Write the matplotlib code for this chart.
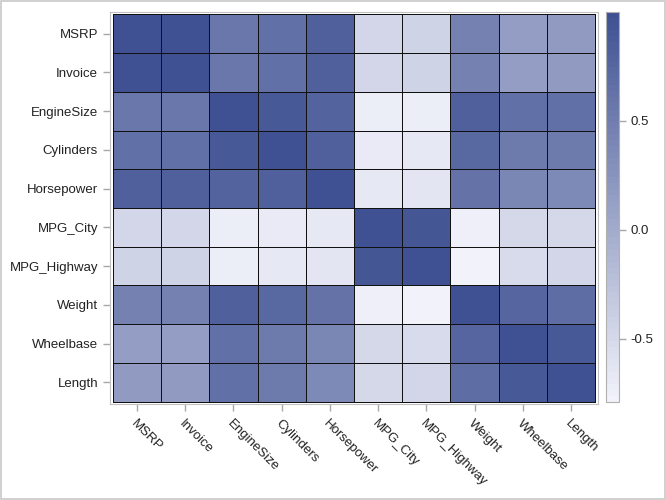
import numpy as np
import matplotlib
matplotlib.use('agg')
import matplotlib.pyplot as plt
from matplotlib.colors import LinearSegmentedColormap
from matplotlib.patches import Rectangle

plt.rcParams['font.family'] = ['Liberation Sans', 'DejaVu Sans']

## Variable names (row / column order)
names = ['MSRP', 'Invoice', 'EngineSize', 'Cylinders', 'Horsepower',
         'MPG_City', 'MPG_Highway', 'Weight', 'Wheelbase', 'Length']

## Correlation matrix, row by row
r_msrp = [1.0, 0.9991, 0.5718, 0.6497, 0.8270, -0.4750, -0.4396, 0.4484, 0.1520, 0.1720]
r_invoice = [0.9991, 1.0, 0.5645, 0.6452, 0.8238, -0.4704, -0.4347, 0.4424, 0.1483, 0.1666]
r_engine = [0.5718, 0.5645, 1.0, 0.9080, 0.7874, -0.7095, -0.7172, 0.8079, 0.6365, 0.6375]
r_cyl = [0.6497, 0.6452, 0.9080, 1.0, 0.8103, -0.6844, -0.6761, 0.7422, 0.5467, 0.5477]
r_hp = [0.8270, 0.8238, 0.7874, 0.8103, 1.0, -0.6767, -0.6472, 0.6308, 0.3874, 0.3816]
r_city = [-0.4750, -0.4704, -0.7095, -0.6844, -0.6767, 1.0, 0.9410, -0.7380, -0.5073, -0.5015]
r_hwy = [-0.4396, -0.4347, -0.7172, -0.6761, -0.6472, 0.9410, 1.0, -0.7910, -0.5247, -0.4661]
r_weight = [0.4484, 0.4424, 0.8079, 0.7422, 0.6308, -0.7380, -0.7910, 1.0, 0.7607, 0.6900]
r_wheel = [0.1520, 0.1483, 0.6365, 0.5467, 0.3874, -0.5073, -0.5247, 0.7607, 1.0, 0.8892]
r_length = [0.1720, 0.1666, 0.6375, 0.5477, 0.3816, -0.5015, -0.4661, 0.6900, 0.8892, 1.0]

corr = np.array([r_msrp, r_invoice, r_engine, r_cyl, r_hp,
                 r_city, r_hwy, r_weight, r_wheel, r_length])

cmap = LinearSegmentedColormap.from_list('sasramp', ['#F1F2FA', '#3F5192'], N=64)

fig = plt.figure(figsize=(6.66, 5.0), dpi=100)

## Outer border like the SAS graph frame
fig.patches.append(Rectangle((0.0015, 0.002), 0.997, 0.996, transform=fig.transFigure,
                             fill=False, edgecolor='#C8C8C8', linewidth=1.2))

ax = fig.add_axes([0.165, 0.192, 0.733, 0.784])
n = len(names)
mesh = ax.pcolormesh(np.arange(n + 1) - 0.5, np.arange(n + 1) - 0.5, corr,
                     cmap=cmap, vmin=corr.min(), vmax=1.0,
                     edgecolors='#111111', linewidth=0.6)
ax.set_xlim(-0.56, n - 0.44)
ax.set_ylim(n - 0.44, -0.56)

ax.set_xticks(np.arange(n))
ax.set_yticks(np.arange(n))
ax.set_yticklabels(names, fontsize=9.5, color='#222222')
ax.set_xticklabels(names, fontsize=9.5, color='#222222', rotation=-45,
                   ha='left', va='top', rotation_mode='anchor')
ax.tick_params(axis='both', color='#A8A8A8', length=5, width=1)
ax.tick_params(axis='x', pad=5)
for sp in ax.spines.values():
    sp.set_color('#C0C0C0')

## Colour bar
cax = fig.add_axes([0.910, 0.196, 0.0195, 0.780])
cb = fig.colorbar(mesh, cax=cax, ticks=[0.5, 0.0, -0.5])
cb.ax.set_yticklabels(['0.5', '0.0', '-0.5'], fontsize=9.5, color='#222222')
cb.ax.tick_params(color='#A8A8A8', length=5, width=1)
cb.outline.set_edgecolor('#B0B0B0')

fig.savefig('out.png', dpi=100)
